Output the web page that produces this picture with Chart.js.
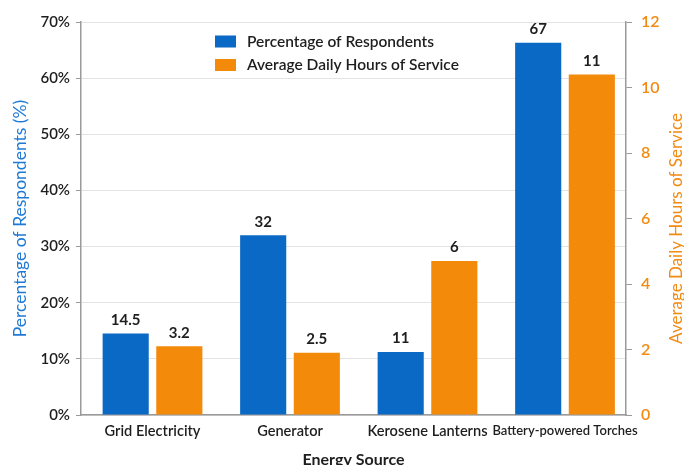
<!DOCTYPE html>
<html>
<head>
<meta charset="utf-8">
<script src="https://cdn.jsdelivr.net/npm/chart.js@4/dist/chart.umd.min.js"></script>
<style>
html,body{margin:0;padding:0;background:#ffffff;}
#wrap{width:684px;height:465px;position:relative;}
</style>
</head>
<body>
<div id="wrap"><canvas id="c" width="684" height="465"></canvas></div>
<script>
const categories = ["Grid Electricity", "Generator", "Kerosene Lanterns", "Battery-powered Torches"];
const respondentsValues = [14.5, 32, 11.2, 66.3];
const respondentsLabels = ["14.5", "32", "11", "67"];
const hoursValues = [2.1, 1.9, 4.7, 10.4];
const hoursLabels = ["3.2", "2.5", "6", "11"];
const leftTicksMax = 70;
const rightTicksMax = 12;

const BLUE = "#0a69c4";
const ORANGE = "#f48a0a";
const FONT = "Lato";

const labelPlugin = {
  id: "barLabels",
  afterDatasetsDraw(chart) {
    const ctx = chart.ctx;
    ctx.save();
    ctx.font = "bold 15px " + FONT;
    ctx.fillStyle = "#1e1e1e";
    ctx.textAlign = "center";
    ctx.textBaseline = "bottom";
    const sets = [respondentsLabels, hoursLabels];
    chart.data.datasets.forEach((ds, i) => {
      const meta = chart.getDatasetMeta(i);
      meta.data.forEach((bar, j) => {
        ctx.fillText(sets[i][j], bar.x, bar.y - 6);
      });
    });
    ctx.restore();
  }
};

// category band in the reference sits slightly right of the plot frame
const xShiftPlugin = {
  id: "xShift",
  afterLayout(chart) {
    const s = chart.scales.x;
    s._startValue = -0.52;
    s._valueRange = 3.9636;
  }
};

const legendPlugin = {
  id: "innerLegend",
  afterDraw(chart) {
    const ctx = chart.ctx;
    const a = chart.chartArea;
    const x0 = a.left + 134;
    const rows = [a.top + 19.5, a.top + 43];
    ctx.save();
    ctx.font = "600 15.5px " + FONT;
    ctx.textBaseline = "middle";
    ctx.textAlign = "left";
    chart.data.datasets.forEach((ds, i) => {
      ctx.fillStyle = ds.backgroundColor;
      ctx.fillRect(x0, rows[i] - 6, 21, 12);
      ctx.fillStyle = "#1e1e1e";
      ctx.fillText(ds.label, x0 + 32, rows[i]);
    });
    // right axis title, reading bottom to top
    ctx.save();
    ctx.translate(677, (a.top + a.bottom) / 2 + 10);
    ctx.rotate(-Math.PI / 2);
    ctx.font = "17px " + FONT;
    ctx.fillStyle = "#f28b12";
    ctx.textAlign = "center";
    ctx.textBaseline = "middle";
    ctx.fillText("Average Daily Hours of Service", 0, 0);
    ctx.restore();
    ctx.restore();
  }
};

new Chart(document.getElementById("c"), {
  type: "bar",
  data: {
    labels: categories,
    datasets: [
      { label: "Percentage of Respondents", data: respondentsValues, backgroundColor: BLUE, yAxisID: "y", barPercentage: 0.86, categoryPercentage: 0.78 },
      { label: "Average Daily Hours of Service", data: hoursValues, backgroundColor: ORANGE, yAxisID: "y1", barPercentage: 0.86, categoryPercentage: 0.78 }
    ]
  },
  options: {
    responsive: false,
    animation: false,
    layout: { padding: { top: 22, left: 0, right: 0, bottom: 0 } },
    plugins: { legend: { display: false }, tooltip: { enabled: false } },
    scales: {
      x: {
        grid: { display: false, drawTicks: false },
        border: { display: true, color: "#9a9a9a", width: 1.5 },
        ticks: {
          color: "#1e1e1e",
          font: (c) => ({ family: FONT, size: (c.index === 3 ? 13 : 14.6), weight: "600" }),
          padding: 8, maxRotation: 0, autoSkip: false
        },
        title: { display: true, text: "Energy Source", color: "#1e1e1e", font: { family: FONT, size: 16, weight: "bold" }, padding: { top: 4, bottom: -4 } },
        afterFit(s) { s.height = 50; }
      },
      y: {
        position: "left",
        min: 0, max: leftTicksMax,
        ticks: { stepSize: 10, callback: v => v + "%", color: "#1e1e1e", font: { family: FONT, size: 15, weight: "600" }, padding: 6 },
        grid: { color: "#e3e3e3", lineWidth: 1, tickLength: 5, tickColor: "#9a9a9a" },
        border: { display: true, color: "#9a9a9a", width: 1.5 },
        title: { display: true, text: "Percentage of Respondents (%)", color: "#1f7ad6", font: { family: FONT, size: 17.5 }, padding: { top: 10, bottom: 4 } },
        afterFit(s) { s.width = 81; }
      },
      y1: {
        position: "right",
        min: 0, max: rightTicksMax,
        ticks: { stepSize: 2, color: "#f28b12", font: { family: FONT, size: 16, weight: "600" }, padding: 9 },
        grid: { drawOnChartArea: false, tickLength: 6, color: "#9a9a9a" },
        border: { display: true, color: "#9a9a9a", width: 1.5 },
        title: { display: false },
        afterFit(s) { s.width = 58; }
      }
    }
  },
  plugins: [xShiftPlugin, labelPlugin, legendPlugin]
});
</script>
</body>
</html>
